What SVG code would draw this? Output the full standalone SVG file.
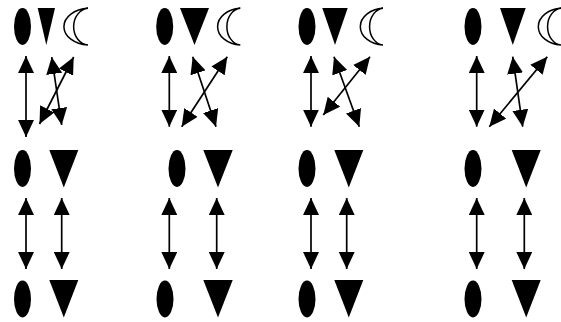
<svg xmlns="http://www.w3.org/2000/svg" width="561" height="322" viewBox="0 0 561 322">
<style>
.s{fill:#000;stroke:none}
.m{fill:#fff;stroke:#000;stroke-width:1.5}
.c{stroke:#000;stroke-width:1.7;fill:none;marker-start:url(#ah);marker-end:url(#ah)}
</style>
<defs>
<marker id="ah" markerUnits="userSpaceOnUse" markerWidth="17" markerHeight="16" viewBox="0 0 16 15" refX="16" refY="7.5" orient="auto-start-reverse">
<path d="M0,0 L16,7.5 L0,15 Z" fill="#000"/>
</marker>
</defs>
<rect width="561" height="322" fill="#fff"/>
<!-- Panel 1 -->
<g id="p1-top-ellipse"><ellipse class="s" cx="22.5" cy="26.5" rx="8.5" ry="18.5"/></g>
<g id="p1-top-triangle"><polygon class="s" points="37.7,8 55,8 46.3,45"/></g>
<g id="p1-top-moon"><path class="m" d="M88,8.3 A26 18.4 0 0 0 88,45 A15.5 18.4 0 0 1 88,8.3 Z"/></g>
<g id="p1-mid-ellipse"><ellipse class="s" cx="22.5" cy="168.5" rx="8.5" ry="18.5"/></g>
<g id="p1-mid-triangle"><polygon class="s" points="49.3,150 78.3,150 63.8,187.5"/></g>
<g id="p1-bot-ellipse"><ellipse class="s" cx="22.5" cy="299" rx="8.5" ry="18.5"/></g>
<g id="p1-bot-triangle"><polygon class="s" points="49.3,280 78.3,280 63.8,317.5"/></g>
<!-- Panel 2 -->
<g id="p2-top-ellipse"><ellipse class="s" cx="164.7" cy="26.5" rx="8.5" ry="18.5"/></g>
<g id="p2-top-triangle"><polygon class="s" points="180,8 209,8 194.5,45"/></g>
<g id="p2-top-moon"><path class="m" d="M240.3,8.3 A24.5 18.4 0 0 0 240.3,45 A14.5 18.4 0 0 1 240.3,8.3 Z"/></g>
<g id="p2-mid-ellipse"><ellipse class="s" cx="177" cy="168.5" rx="8.5" ry="18.5"/></g>
<g id="p2-mid-triangle"><polygon class="s" points="203.3,150 232.7,150 218,187.5"/></g>
<g id="p2-bot-ellipse"><ellipse class="s" cx="165" cy="299" rx="8.5" ry="18.5"/></g>
<g id="p2-bot-triangle"><polygon class="s" points="203.3,280 232.7,280 218,317.5"/></g>
<!-- Panel 3 -->
<g id="p3-top-ellipse"><ellipse class="s" cx="307" cy="26.5" rx="8.5" ry="18.5"/></g>
<g id="p3-top-triangle"><polygon class="s" points="322.3,8 347.7,8 335,45"/></g>
<g id="p3-top-moon"><path class="m" d="M383,8.3 A24.5 18.4 0 0 0 383,45 A14.5 18.4 0 0 1 383,8.3 Z"/></g>
<g id="p3-mid-ellipse"><ellipse class="s" cx="307" cy="168.5" rx="8.5" ry="18.5"/></g>
<g id="p3-mid-triangle"><polygon class="s" points="334.3,150 363.3,150 348.8,187.5"/></g>
<g id="p3-bot-ellipse"><ellipse class="s" cx="307" cy="299" rx="8.5" ry="18.5"/></g>
<g id="p3-bot-triangle"><polygon class="s" points="334.3,280 363.3,280 348.8,317.5"/></g>
<!-- Panel 4 -->
<g id="p4-top-ellipse"><ellipse class="s" cx="473" cy="26.5" rx="8.5" ry="18.5"/></g>
<g id="p4-top-triangle"><polygon class="s" points="500,8 525.7,8 512.8,45"/></g>
<g id="p4-top-moon"><path class="m" d="M561,8.3 A24.5 18.4 0 0 0 561,45 A14.5 18.4 0 0 1 561,8.3 Z"/></g>
<g id="p4-mid-ellipse"><ellipse class="s" cx="473" cy="168.5" rx="8.5" ry="18.5"/></g>
<g id="p4-mid-triangle"><polygon class="s" points="511.7,150 540.7,150 526.2,187.5"/></g>
<g id="p4-bot-ellipse"><ellipse class="s" cx="473" cy="299" rx="8.5" ry="18.5"/></g>
<g id="p4-bot-triangle"><polygon class="s" points="511.7,280 540.7,280 526.2,317.5"/></g>
<g id="connectors">
<line class="c" x1="26" y1="56" x2="26" y2="137"/>
<line class="c" x1="51.7" y1="57" x2="61.7" y2="125"/>
<line class="c" x1="73.7" y1="57" x2="39.5" y2="124"/>
<line class="c" x1="26" y1="198" x2="26" y2="269"/>
<line class="c" x1="61.7" y1="198" x2="61.7" y2="269"/>
<line class="c" x1="169.3" y1="56" x2="169.3" y2="126.7"/>
<line class="c" x1="192.7" y1="56.7" x2="216" y2="126.7"/>
<line class="c" x1="227.3" y1="56.7" x2="181.7" y2="126.7"/>
<line class="c" x1="169.3" y1="198" x2="169.3" y2="269"/>
<line class="c" x1="216.7" y1="198" x2="216.7" y2="269"/>
<line class="c" x1="311" y1="56" x2="311" y2="126.7"/>
<line class="c" x1="334" y1="56.7" x2="359.3" y2="126.7"/>
<line class="c" x1="370" y1="56.7" x2="323.3" y2="115"/>
<line class="c" x1="311" y1="198" x2="311" y2="269"/>
<line class="c" x1="346.7" y1="198" x2="346.7" y2="269"/>
<line class="c" x1="476.7" y1="56" x2="476.7" y2="126.7"/>
<line class="c" x1="512.7" y1="56.7" x2="522.7" y2="126.7"/>
<line class="c" x1="547.3" y1="56.7" x2="489.3" y2="126.7"/>
<line class="c" x1="476.7" y1="198" x2="476.7" y2="269"/>
<line class="c" x1="524.3" y1="198" x2="524.3" y2="269"/>
</g>
</svg>
